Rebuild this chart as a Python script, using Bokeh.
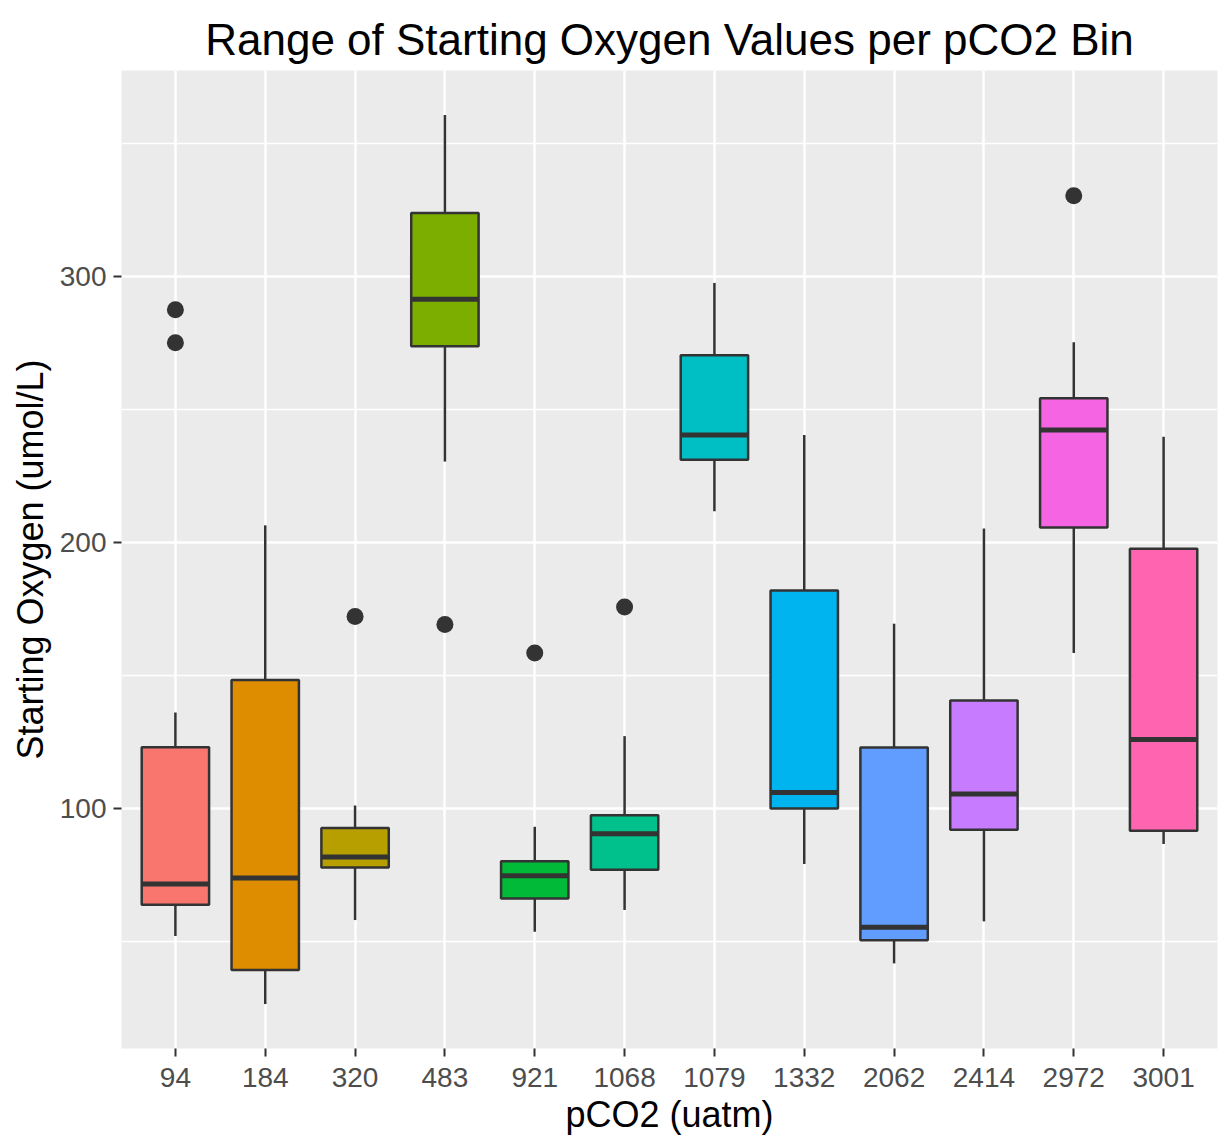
import numpy as np
from bokeh.plotting import figure
from bokeh.models import Range1d, FixedTicker, ColumnDataSource
from bokeh.embed import file_html
from bokeh.resources import INLINE

# ---- data ----
categories = ["94", "184", "320", "483", "921", "1068", "1079", "1332", "2062", "2414", "2972", "3001"]
whisker_low = [52.0, 26.4, 58.0, 230.5, 53.6, 61.8, 211.8, 79.1, 41.7, 57.5, 158.5, 86.6]
q1 = [63.8, 39.2, 77.8, 273.9, 66.1, 76.9, 231.2, 100.0, 50.4, 92.0, 205.7, 91.6]
median = [71.6, 73.8, 81.7, 291.6, 74.7, 90.5, 240.5, 106.0, 55.3, 105.4, 242.4, 125.9]
q3 = [123.0, 148.3, 92.6, 324.0, 80.1, 97.4, 270.5, 182.0, 122.9, 140.6, 254.3, 197.7]
whisker_high = [136.1, 206.5, 101.1, 360.9, 93.1, 127.2, 297.7, 240.5, 169.5, 205.3, 275.4, 239.8]
outlier_cat = ["94", "94", "320", "483", "921", "1068", "2972"]
outlier_val = [287.6, 275.2, 172.2, 169.2, 158.5, 175.8, 330.5]
colors = ["#F8766D", "#DE8C00", "#B79F00", "#7CAE00", "#00BA38", "#00C08B",
          "#00BFC4", "#00B4F0", "#619CFF", "#C77CFF", "#F564E3", "#FF64B0"]
y_ticks = [100, 200, 300]
y_minor = [50, 150, 250, 350]

FONT = "Liberation Sans"
BOX_W = 0.75

x = np.arange(1, len(categories) + 1)
pos = {c: i + 1 for i, c in enumerate(categories)}

all_vals = whisker_low + whisker_high + outlier_val
lo, hi = min(all_vals), max(all_vals)
pad = 0.05 * (hi - lo)

p = figure(
    frame_width=1096, frame_height=978,
    min_border_left=121, min_border_right=8, min_border_top=70, min_border_bottom=91,
    x_range=Range1d(0.4, len(categories) + 0.6),
    y_range=Range1d(lo - pad, hi + pad),
    output_backend="svg", toolbar_location=None,
    title="Range of Starting Oxygen Values per pCO2 Bin",
)
p.background_fill_color = "#EBEBEB"
p.border_fill_color = "white"
p.outline_line_color = None

p.title.text_font = FONT
p.title.text_font_size = "44px"
p.title.text_font_style = "normal"
p.title.text_color = "black"
p.title.align = "center"
p.title.standoff = 14

# axes
p.xaxis.ticker = FixedTicker(ticks=list(x))
p.xaxis.major_label_overrides = {int(i): c for i, c in zip(x, categories)}
p.yaxis.ticker = FixedTicker(ticks=y_ticks, minor_ticks=y_minor)
for ax in (p.xaxis[0], p.yaxis[0]):
    ax.axis_line_color = None
    ax.major_tick_line_color = "#333333"
    ax.major_tick_line_width = 2
    ax.major_tick_out = 8
    ax.major_tick_in = 0
    ax.minor_tick_line_color = None
    ax.major_label_text_font = FONT
    ax.major_label_text_font_size = "28px"
    ax.major_label_text_color = "#4D4D4D"
    ax.major_label_standoff = 5
    ax.axis_label_text_font = FONT
    ax.axis_label_text_font_size = "36px"
    ax.axis_label_text_font_style = "normal"
    ax.axis_label_text_color = "black"
    ax.axis_label_standoff = 6
p.xaxis.major_label_standoff = 11
p.xaxis.axis_label_standoff = 4
p.yaxis.major_label_standoff = 7
p.xaxis.axis_label = "pCO2 (uatm)"
p.yaxis.axis_label = "Starting Oxygen (umol/L)"

# grid
p.xgrid.grid_line_color = "white"
p.xgrid.grid_line_width = 2.5
p.ygrid.grid_line_color = "white"
p.ygrid.grid_line_width = 2.5
p.ygrid.minor_grid_line_color = "white"
p.ygrid.minor_grid_line_width = 1.3

src = ColumnDataSource(dict(
    x=x, lo=whisker_low, q1=q1, med=median, q3=q3, hi=whisker_high, color=colors,
    left=x - BOX_W / 2, right=x + BOX_W / 2,
))

# whiskers
p.segment(x0="x", y0="q3", x1="x", y1="hi", source=src, line_color="#333333", line_width=2.5)
p.segment(x0="x", y0="q1", x1="x", y1="lo", source=src, line_color="#333333", line_width=2.5)
# boxes
p.vbar(x="x", bottom="q1", top="q3", width=BOX_W, source=src,
       fill_color="color", line_color="#333333", line_width=2.5)
# medians
p.segment(x0="left", y0="med", x1="right", y1="med", source=src,
          line_color="#333333", line_width=5)
# outliers
p.scatter(x=[pos[c] for c in outlier_cat], y=outlier_val, size=17,
          fill_color="#333333", line_color=None)

open("out.html", "w").write(file_html(p, INLINE))
